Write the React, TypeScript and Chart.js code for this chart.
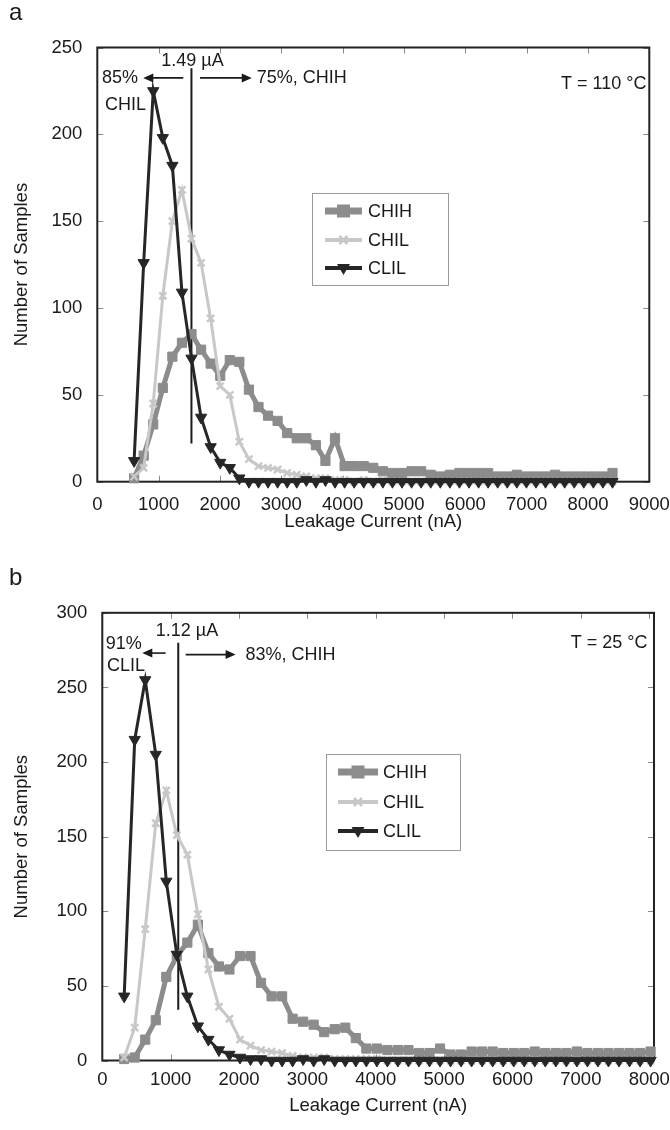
import React, { useEffect, useRef } from 'react';
import { Chart, registerables } from 'chart.js';

Chart.register(...registerables);

const FONT = '"Liberation Sans", Arial, Helvetica, sans-serif';
const INK = '#1a1a1a';

// ---------------- data: panel a (T = 110 °C) ----------------
const currentA = [
  600, 756, 912, 1068, 1224, 1380, 1536, 1692, 1848, 2004,
  2160, 2316, 2472, 2628, 2784, 2940, 3096, 3252, 3408, 3564,
  3720, 3876, 4032, 4188, 4344, 4500, 4656, 4812, 4968, 5124,
  5280, 5436, 5592, 5748, 5904, 6060, 6216, 6372, 6528, 6684,
  6840, 6996, 7152, 7308, 7464, 7620, 7776, 7932, 8088, 8244,
  8400,
];
const chihA = [
  2, 15, 33, 54, 72, 80, 85, 76, 68, 61,
  70, 69, 53, 43, 38, 35, 28, 25, 25, 21,
  12, 25, 9, 9, 9, 8, 6, 5, 5, 6,
  6, 4, 3, 4, 5, 5, 5, 5, 3, 3,
  4, 3, 3, 3, 4, 3, 3, 3, 3, 3,
  5,
];
const chilA = [
  3, 8, 45, 107, 150, 168, 140, 126, 94, 55,
  50, 23, 13, 9, 8, 7, 5, 4, 3, 2,
  2, 1, 1, 0, 1, 0, 1, 0, 0, 0,
  0, 0, 0, 0, 0, 0, 0, 0, 0, 0,
  0, 0, 0, 0, 0, 0, 0, 0, 0, 0,
  0,
];
const clilA = [
  12, 126, 225, 198, 182, 109, 71, 37, 20, 11,
  8, 2, 0, 0, 0, 0, 0, 0, 1, 0,
  1, 0, 0, 0, 0, 0, 0, 0, 0, 0,
  0, 0, 0, 0, 0, 0, 0, 0, 0, 0,
  0, 0, 0, 0, 0, 0, 0, 0, 0, 0,
  0,
];
const xTicksA = [0, 1000, 2000, 3000, 4000, 5000, 6000, 7000, 8000, 9000];
const yTicksA = [0, 50, 100, 150, 200, 250];

// ---------------- data: panel b (T = 25 °C) ----------------
const currentB = [
  320, 474, 628, 782, 936, 1090, 1244, 1398, 1552, 1706,
  1860, 2014, 2168, 2322, 2476, 2630, 2784, 2938, 3092, 3246,
  3400, 3554, 3708, 3862, 4016, 4170, 4324, 4478, 4632, 4786,
  4940, 5094, 5248, 5402, 5556, 5710, 5864, 6018, 6172, 6326,
  6480, 6634, 6788, 6942, 7096, 7250, 7404, 7558, 7712, 7866,
  8020,
];
const chihB = [
  1, 2, 14, 27, 56, 70, 79, 91, 72, 63,
  61, 70, 70, 52, 43, 43, 28, 26, 24, 19,
  21, 22, 15, 8, 8, 7, 7, 7, 5, 5,
  8, 4, 4, 6, 6, 6, 5, 5, 5, 6,
  5, 5, 5, 6, 5, 5, 5, 5, 5, 5,
  6,
];
const chilB = [
  2, 22, 88, 159, 181, 151, 138, 98, 61, 36,
  28, 14, 10, 7, 6, 5, 3, 2, 2, 2,
  1, 1, 1, 1, 1, 0, 0, 0, 0, 0,
  0, 0, 0, 0, 0, 0, 0, 0, 0, 0,
  0, 0, 0, 0, 0, 0, 0, 0, 0, 0,
  0,
];
const clilB = [
  43, 215, 255, 205, 120, 71, 43, 23, 14, 7,
  4, 2, 1, 1, 0, 0, 0, 1, 0, 1,
  0, 0, 0, 0, 0, 0, 0, 0, 0, 0,
  0, 0, 0, 0, 0, 0, 0, 0, 0, 0,
  0, 0, 0, 0, 0, 0, 0, 0, 0, 0,
  0,
];
const xTicksB = [0, 1000, 2000, 3000, 4000, 5000, 6000, 7000, 8000];
const yTicksB = [0, 50, 100, 150, 200, 250, 300];

const seriesNames = ['CHIH', 'CHIL', 'CLIL'];

// ---------------- styles ----------------
const STYLES = [
  { color: '#8c8c8c', lineWidth: 5, pointStyle: 'rect', radius: 6.5, pbw: 1, rotation: 0, order: 2 },
  { color: '#c8c8c8', lineWidth: 3, pointStyle: 'crossRot', radius: 5, pbw: 2.5, rotation: 0, order: 1 },
  { color: '#262626', lineWidth: 3, pointStyle: 'triangle', radius: 6.5, pbw: 1, rotation: 180, order: 0 },
];

type TextNote = { text: string; x: number; y: number; align: CanvasTextAlign };
type ArrowNote = { x1: number; x2: number; y: number };

interface Panel {
  letter: string;
  xs: number[];
  series: number[][];
  xMax: number;
  yMax: number;
  xTicks: number[];
  yTicks: number[];
  area: { left: number; right: number; top: number; bottom: number };
  tickPad: number;
  xTitlePad: number;
  marker: { x: number; y0: number; y1: number };
  texts: TextNote[];
  arrows: ArrowNote[];
  legend: { left: number; top: number; right: number; bottom: number; rows: number[]; x1: number; x2: number; tx: number };
}

const W = 670;
const H = 565;

const panelA: Panel = {
  letter: 'a',
  xs: currentA,
  series: [chihA, chilA, clilA],
  xMax: 9000,
  yMax: 250,
  xTicks: xTicksA,
  yTicks: yTicksA,
  area: { left: 97.3, right: 649.3, top: 47.5, bottom: 481.7 },
  tickPad: 12,
  xTitlePad: 32,
  marker: { x: 1535, y0: 22, y1: 238 },
  texts: [
    { text: '1.49 µA', x: 1552, y: 242, align: 'center' },
    { text: '85%', x: 77, y: 232.5, align: 'left' },
    { text: 'CHIL', x: 126, y: 217, align: 'left' },
    { text: '75%, CHIH', x: 2600, y: 232.5, align: 'left' },
    { text: 'T = 110 °C', x: 7561, y: 229, align: 'left' },
  ],
  arrows: [
    { x1: 1402, x2: 750, y: 232.5 },
    { x1: 1675, x2: 2518, y: 232.5 },
  ],
  legend: { left: 312, top: 193, right: 448, bottom: 285, rows: [211, 240, 268], x1: 325, x2: 362, tx: 368 },
};

const panelB: Panel = {
  letter: 'b',
  xs: currentB,
  series: [chihB, chilB, clilB],
  xMax: 8070,
  yMax: 300,
  xTicks: xTicksB,
  yTicks: yTicksB,
  area: { left: 102.3, right: 654, top: 47.8, bottom: 495.5 },
  tickPad: 8,
  xTitlePad: 13,
  marker: { x: 1111, y0: 34, y1: 280 },
  texts: [
    { text: '1.12 µA', x: 1238, y: 287.8, align: 'center' },
    { text: '91%', x: 50, y: 279, align: 'left' },
    { text: 'CLIL', x: 69, y: 264, align: 'left' },
    { text: '83%, CHIH', x: 2096, y: 272, align: 'left' },
    { text: 'T = 25 °C', x: 6852, y: 280, align: 'left' },
  ],
  arrows: [
    { x1: 927, x2: 585, y: 273 },
    { x1: 1219, x2: 1950, y: 272 },
  ],
  legend: { left: 326, top: 189, right: 460, bottom: 285, rows: [207, 237, 266], x1: 338, x2: 378, tx: 383 },
};

function drawMarker(ctx: CanvasRenderingContext2D, idx: number, x: number, y: number) {
  const s = STYLES[idx];
  ctx.save();
  ctx.fillStyle = s.color;
  ctx.strokeStyle = s.color;
  if (s.pointStyle === 'rect') {
    ctx.fillRect(x - 6.5, y - 6.5, 13, 13);
  } else if (s.pointStyle === 'crossRot') {
    ctx.lineWidth = 2.5;
    ctx.beginPath();
    ctx.moveTo(x - 4, y - 4);
    ctx.lineTo(x + 4, y + 4);
    ctx.moveTo(x + 4, y - 4);
    ctx.lineTo(x - 4, y + 4);
    ctx.stroke();
  } else {
    ctx.beginPath();
    ctx.moveTo(x - 6.5, y - 4);
    ctx.lineTo(x + 6.5, y - 4);
    ctx.lineTo(x, y + 7);
    ctx.closePath();
    ctx.fill();
  }
  ctx.restore();
}

const panelPlugin = {
  id: 'panelDeco',
  beforeDatasetsDraw(chart: any, _args: any, opts: any) {
    const p: Panel = opts.panel;
    const { ctx, chartArea: a, scales } = chart;
    ctx.save();
    // inside tick marks on all four sides
    ctx.strokeStyle = '#8a8a8a';
    ctx.lineWidth = 1;
    ctx.beginPath();
    p.xTicks.forEach((v) => {
      const px = Math.round(scales.x.getPixelForValue(v)) + 0.5;
      ctx.moveTo(px, a.bottom);
      ctx.lineTo(px, a.bottom - 6);
      ctx.moveTo(px, a.top);
      ctx.lineTo(px, a.top + 6);
    });
    p.yTicks.forEach((v) => {
      const py = Math.round(scales.y.getPixelForValue(v)) + 0.5;
      ctx.moveTo(a.left, py);
      ctx.lineTo(a.left + 6, py);
      ctx.moveTo(a.right, py);
      ctx.lineTo(a.right - 6, py);
    });
    ctx.stroke();
    // frame
    ctx.strokeStyle = '#222222';
    ctx.lineWidth = 2;
    ctx.strokeRect(a.left, a.top, a.right - a.left, a.bottom - a.top);
    // threshold line
    const mx = scales.x.getPixelForValue(p.marker.x);
    ctx.strokeStyle = INK;
    ctx.lineWidth = 2;
    ctx.beginPath();
    ctx.moveTo(mx, scales.y.getPixelForValue(p.marker.y0));
    ctx.lineTo(mx, scales.y.getPixelForValue(p.marker.y1));
    ctx.stroke();
    ctx.restore();
  },
  afterDatasetsDraw(chart: any, _args: any, opts: any) {
    const p: Panel = opts.panel;
    const { ctx, scales } = chart;
    ctx.save();
    // panel letter
    ctx.fillStyle = INK;
    ctx.font = `24px ${FONT}`;
    ctx.textAlign = 'left';
    ctx.textBaseline = 'middle';
    ctx.fillText(p.letter, 9, 13);
    // annotation texts
    ctx.font = `18px ${FONT}`;
    p.texts.forEach((t) => {
      ctx.textAlign = t.align;
      ctx.fillText(t.text, scales.x.getPixelForValue(t.x), scales.y.getPixelForValue(t.y));
    });
    // arrows
    ctx.strokeStyle = INK;
    ctx.fillStyle = INK;
    ctx.lineWidth = 1.6;
    p.arrows.forEach((ar) => {
      const x1 = scales.x.getPixelForValue(ar.x1);
      const x2 = scales.x.getPixelForValue(ar.x2);
      const y = scales.y.getPixelForValue(ar.y);
      const dir = x2 > x1 ? 1 : -1;
      ctx.beginPath();
      ctx.moveTo(x1, y);
      ctx.lineTo(x2 - dir * 8, y);
      ctx.stroke();
      ctx.beginPath();
      ctx.moveTo(x2, y);
      ctx.lineTo(x2 - dir * 10, y - 4.5);
      ctx.lineTo(x2 - dir * 10, y + 4.5);
      ctx.closePath();
      ctx.fill();
    });
    // legend
    const L = p.legend;
    ctx.strokeStyle = '#9a9a9a';
    ctx.lineWidth = 1;
    ctx.strokeRect(L.left + 0.5, L.top + 0.5, L.right - L.left, L.bottom - L.top);
    seriesNames.forEach((name, i) => {
      const y = L.rows[i];
      const s = STYLES[i];
      ctx.strokeStyle = s.color;
      ctx.lineWidth = i === 0 ? 7 : 4;
      ctx.beginPath();
      ctx.moveTo(L.x1, y);
      ctx.lineTo(L.x2, y);
      ctx.stroke();
      drawMarker(ctx, i, (L.x1 + L.x2) / 2, y);
      ctx.fillStyle = INK;
      ctx.font = `18px ${FONT}`;
      ctx.textAlign = 'left';
      ctx.textBaseline = 'middle';
      ctx.fillText(name, L.tx, y + 1);
    });
    ctx.restore();
  },
};

function makeConfig(p: Panel): any {
  const datasets = seriesNames.map((name, i) => {
    const s = STYLES[i];
    return {
      label: name,
      data: p.xs.map((x, k) => ({ x, y: p.series[i][k] })),
      borderColor: s.color,
      backgroundColor: s.color,
      borderWidth: s.lineWidth,
      pointStyle: s.pointStyle,
      pointRadius: s.radius,
      pointBorderWidth: s.pbw,
      pointBackgroundColor: s.color,
      pointBorderColor: s.color,
      pointRotation: s.rotation,
      tension: 0,
      clip: false,
      order: s.order,
    };
  });
  const tickFont = { family: FONT, size: 18.5 };
  return {
    type: 'line',
    data: { datasets },
    plugins: [panelPlugin],
    options: {
      animation: false,
      responsive: false,
      devicePixelRatio: 1,
      layout: { padding: { left: 0, top: p.area.top, right: W - p.area.right, bottom: 0 } },
      plugins: {
        legend: { display: false },
        tooltip: { enabled: false },
        panelDeco: { panel: p },
      },
      scales: {
        x: {
          type: 'linear',
          min: 0,
          max: p.xMax,
          grid: { display: false, drawTicks: false },
          border: { display: false },
          ticks: {
            font: tickFont, color: INK, padding: p.tickPad, maxRotation: 0, autoSkip: false,
            callback: (v: any) => String(v),
          },
          afterBuildTicks: (s: any) => { s.ticks = p.xTicks.map((v) => ({ value: v })); },
          title: { display: true, text: 'Leakage Current (nA)', font: tickFont, color: INK, padding: { top: 0, bottom: p.xTitlePad } },
          afterFit: (s: any) => {
            s.height = H - p.area.bottom;
            s.paddingLeft = 0;
            s.paddingRight = 0;
          },
        },
        y: {
          type: 'linear',
          min: 0,
          max: p.yMax,
          grid: { display: false, drawTicks: false },
          border: { display: false },
          ticks: { font: tickFont, color: INK, padding: 15, callback: (v: any) => String(v) },
          afterBuildTicks: (s: any) => { s.ticks = p.yTicks.map((v) => ({ value: v })); },
          title: { display: true, text: 'Number of Samples', font: tickFont, color: INK, padding: { top: 11, bottom: 0 } },
          afterFit: (s: any) => {
            s.width = p.area.left;
            s.paddingTop = 0;
            s.paddingBottom = 0;
          },
        },
      },
    },
  };
}

function PanelChart({ panel }: { panel: Panel }) {
  const ref = useRef<HTMLCanvasElement>(null);
  useEffect(() => {
    if (!ref.current) return;
    const chart = new Chart(ref.current, makeConfig(panel));
    return () => chart.destroy();
  }, [panel]);
  return <canvas ref={ref} width={W} height={H} style={{ display: 'block', width: W, height: H }} />;
}

export default function App() {
  useEffect(() => {
    document.body.style.margin = '0';
    document.body.style.background = '#ffffff';
  }, []);
  return (
    <div style={{ width: W, height: H * 2, background: '#ffffff' }}>
      <PanelChart panel={panelA} />
      <PanelChart panel={panelB} />
    </div>
  );
}
